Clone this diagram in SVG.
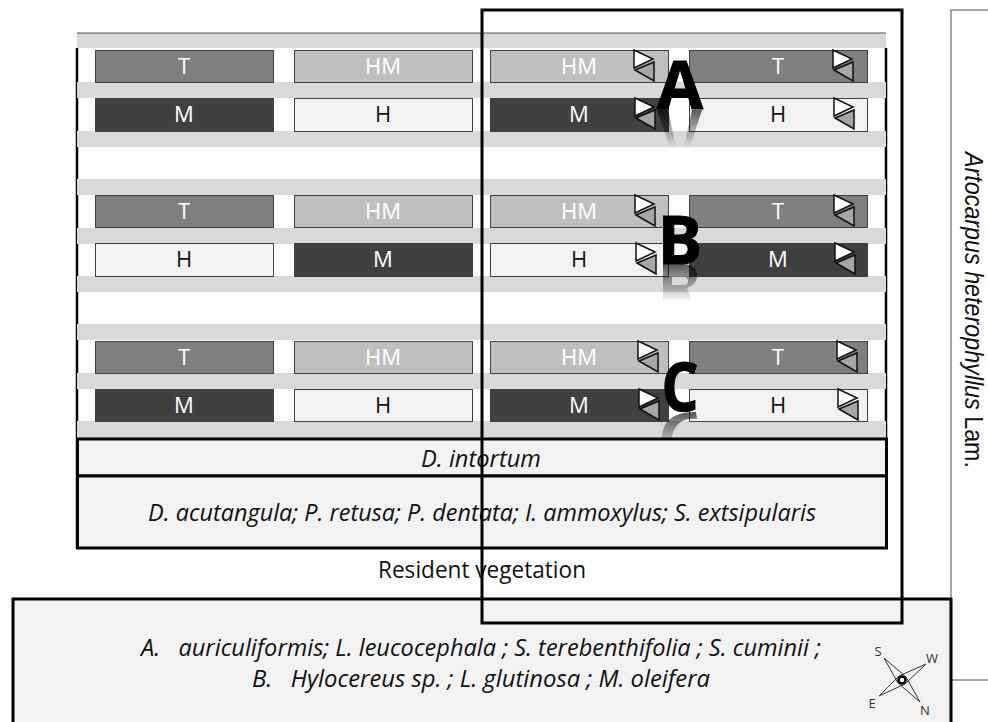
<svg xmlns="http://www.w3.org/2000/svg" xmlns:xlink="http://www.w3.org/1999/xlink" width="988" height="722" viewBox="0 0 988 722">
<style>
text{font-family:"Open Sans","Noto Sans","Liberation Sans",sans-serif;text-anchor:middle}
.strip{fill:#d9d9d9}
.box{stroke:#404040;stroke-width:1}
.T{fill:#7f7f7f}.HM{fill:#bfbfbf}.M{fill:#404040}.H{fill:#f2f2f2}
.lb{font-size:22px;fill:#fff}.dk{fill:#111}
.it{font-size:23px;font-style:italic;fill:#111}
.big{font-size:66px;font-weight:700;fill:#000;stroke:#000;stroke-width:1.2}
.frame{fill:none;stroke:#000;stroke-width:3}
.pan{fill:#f2f2f2;stroke:#000;stroke-width:3}
.tri1{fill:#fff;stroke:#111;stroke-width:1.5}
.tri2{fill:#a6a6a6;stroke:#111;stroke-width:1.5}
</style>
<defs>
<g id="tris"><polygon class="tri1" points="0,0 19,9 0,18"/><polygon class="tri2" points="1,20 20,12 20,31"/></g>
<linearGradient id="fa" gradientUnits="userSpaceOnUse" x1="0" y1="109" x2="0" y2="147"><stop offset="0" stop-color="#000" stop-opacity=".65"/><stop offset="1" stop-color="#000" stop-opacity="0"/></linearGradient>
<linearGradient id="fb" gradientUnits="userSpaceOnUse" x1="0" y1="264" x2="0" y2="302"><stop offset="0" stop-color="#000" stop-opacity=".65"/><stop offset="1" stop-color="#000" stop-opacity="0"/></linearGradient>
<linearGradient id="fc" gradientUnits="userSpaceOnUse" x1="0" y1="412" x2="0" y2="450"><stop offset="0" stop-color="#000" stop-opacity=".65"/><stop offset="1" stop-color="#000" stop-opacity="0"/></linearGradient>
</defs>
<rect width="988" height="722" fill="#fff"/>
<g id="side"><rect x="951" y="10" width="40" height="670" fill="#fff" stroke="#8c8c8c" stroke-width="1.5"/>
<text transform="translate(965,310) rotate(90)" font-size="25" fill="#111" style="font-family:'Liberation Sans',sans-serif" textLength="316" lengthAdjust="spacingAndGlyphs"><tspan font-style="italic">Artocarpus heterophyllus</tspan> Lam.</text></g>
<g id="plots">
<path d="M77 48V548M886 48V548" stroke="#000" stroke-width="2.500"/>
<rect x="77" y="33" width="809" height="15" class="strip"/>
<path d="M77 33H886" stroke="#555" stroke-width="1"/>
<rect x="77" y="82" width="809" height="16" class="strip"/><rect x="77" y="131" width="809" height="16" class="strip"/>
<rect x="77" y="179" width="809" height="16" class="strip"/><rect x="77" y="228" width="809" height="16" class="strip"/><rect x="77" y="276" width="809" height="16" class="strip"/>
<rect x="77" y="324" width="809" height="16" class="strip"/><rect x="77" y="373" width="809" height="16" class="strip"/><rect x="77" y="421" width="809" height="17" class="strip"/>
</g>
<g id="block-A">
<rect class="box T" x="95.500" y="50.500" width="178" height="32"/><text class="lb" x="184" y="74">T</text>
<rect class="box HM" x="294.500" y="50.500" width="178" height="32"/><text class="lb" x="383" y="74">HM</text>
<rect class="box HM" x="490.500" y="50.500" width="178" height="32"/><text class="lb" x="579" y="74">HM</text>
<rect class="box T" x="689.500" y="50.500" width="178" height="32"/><text class="lb" x="778" y="74">T</text>
<rect class="box M" x="95.500" y="98.500" width="178" height="33"/><text class="lb" x="184" y="122">M</text>
<rect class="box H" x="294.500" y="98.500" width="178" height="33"/><text class="lb dk" x="383" y="122">H</text>
<rect class="box M" x="490.500" y="98.500" width="178" height="33"/><text class="lb" x="579" y="122">M</text>
<rect class="box H" x="689.500" y="98.500" width="178" height="33"/><text class="lb dk" x="778" y="122">H</text>
<use xlink:href="#tris" x="634" y="50"/><use xlink:href="#tris" x="833" y="50"/><use xlink:href="#tris" x="635" y="98"/><use xlink:href="#tris" x="834" y="98"/>
<polygon points="657,110 668,110 676,147 670,147" fill="url(#fa)"/><polygon points="692,110 702,110 690,147 684,147" fill="url(#fa)"/>
<text class="big" x="680" y="109" textLength="46" lengthAdjust="spacingAndGlyphs">A</text>
</g>
<g id="block-B">
<rect class="box T" x="95.500" y="195.500" width="178" height="32"/><text class="lb" x="184" y="219">T</text>
<rect class="box HM" x="294.500" y="195.500" width="178" height="32"/><text class="lb" x="383" y="219">HM</text>
<rect class="box HM" x="490.500" y="195.500" width="178" height="32"/><text class="lb" x="579" y="219">HM</text>
<rect class="box T" x="689.500" y="195.500" width="178" height="32"/><text class="lb" x="778" y="219">T</text>
<rect class="box H" x="95.500" y="243.500" width="178" height="33"/><text class="lb dk" x="184" y="267">H</text>
<rect class="box M" x="294.500" y="243.500" width="178" height="33"/><text class="lb" x="383" y="267">M</text>
<rect class="box H" x="490.500" y="243.500" width="178" height="33"/><text class="lb dk" x="579" y="267">H</text>
<rect class="box M" x="689.500" y="243.500" width="178" height="33"/><text class="lb" x="778" y="267">M</text>
<use xlink:href="#tris" x="635" y="195"/><use xlink:href="#tris" x="834" y="195"/><use xlink:href="#tris" x="636" y="243"/><use xlink:href="#tris" x="835" y="243"/>
<path fill-rule="evenodd" d="M663 264V302H693L687 288C694 286 698 280 697 273C696 267 690 264 682 264ZM672 277H684C687 277 688 279 688 281C688 284 686 285 684 285H672Z" fill="url(#fb)"/>
<text class="big" x="680" y="264">B</text>
</g>
<g id="block-C">
<rect class="box T" x="95.500" y="341.500" width="178" height="32"/><text class="lb" x="184" y="365">T</text>
<rect class="box HM" x="294.500" y="341.500" width="178" height="32"/><text class="lb" x="383" y="365">HM</text>
<rect class="box HM" x="490.500" y="341.500" width="178" height="32"/><text class="lb" x="579" y="365">HM</text>
<rect class="box T" x="689.500" y="341.500" width="178" height="32"/><text class="lb" x="778" y="365">T</text>
<rect class="box M" x="95.500" y="389.500" width="178" height="32"/><text class="lb" x="184" y="413">M</text>
<rect class="box H" x="294.500" y="389.500" width="178" height="32"/><text class="lb dk" x="383" y="413">H</text>
<rect class="box M" x="490.500" y="389.500" width="178" height="32"/><text class="lb" x="579" y="413">M</text>
<rect class="box H" x="689.500" y="389.500" width="178" height="32"/><text class="lb dk" x="778" y="413">H</text>
<use xlink:href="#tris" x="638" y="341"/><use xlink:href="#tris" x="837" y="341"/><use xlink:href="#tris" x="639" y="389"/><use xlink:href="#tris" x="838" y="389"/>
<path d="M662 447C660 425 668 412 696 412L697 419C680 417 671 427 671 447Z" fill="url(#fc)"/>
<text class="big" x="680" y="411" textLength="37" lengthAdjust="spacingAndGlyphs">C</text>
</g>
<g id="layers">
<rect class="pan" x="77.500" y="439" width="809" height="37"/>
<rect class="pan" x="77.500" y="476" width="809" height="72"/>
<text class="it" x="481" y="467" textLength="120" lengthAdjust="spacingAndGlyphs">D. intortum</text>
<text class="it" x="482" y="521" textLength="668" lengthAdjust="spacingAndGlyphs">D. acutangula; P. retusa; P. dentata; I. ammoxylus; S. extsipularis</text>
<text x="482" y="578" font-size="23" fill="#111" textLength="208" lengthAdjust="spacingAndGlyphs">Resident vegetation</text>
</g>
<g id="bottom">
<rect class="pan" x="13" y="599" width="938" height="126"/>
<text class="it" x="481" y="656" textLength="680" lengthAdjust="spacingAndGlyphs" xml:space="preserve">A.   auriculiformis; L. leucocephala ; S. terebenthifolia ; S. cuminii ;</text>
<text class="it" x="481" y="687" textLength="458" lengthAdjust="spacingAndGlyphs" xml:space="preserve">B.   Hylocereus sp. ; L. glutinosa ; M. oleifera</text>
</g>
<g id="compass">
<polygon points="884,658 906,677 920,702 898,683" fill="none" stroke="#333" stroke-width="1"/>
<polygon points="926,664 905,684 879,696 899,676" fill="none" stroke="#333" stroke-width="1"/>
<circle cx="902" cy="680" r="3.500" fill="#fff" stroke="#000" stroke-width="2.500"/>
<g font-size="13" fill="#333"><text x="878" y="656">S</text><text x="932" y="663">W</text><text x="872" y="708">E</text><text x="925" y="715">N</text></g>
</g>
<g id="overlay"><rect class="frame" x="482" y="10" width="420" height="613"/></g>
</svg>
